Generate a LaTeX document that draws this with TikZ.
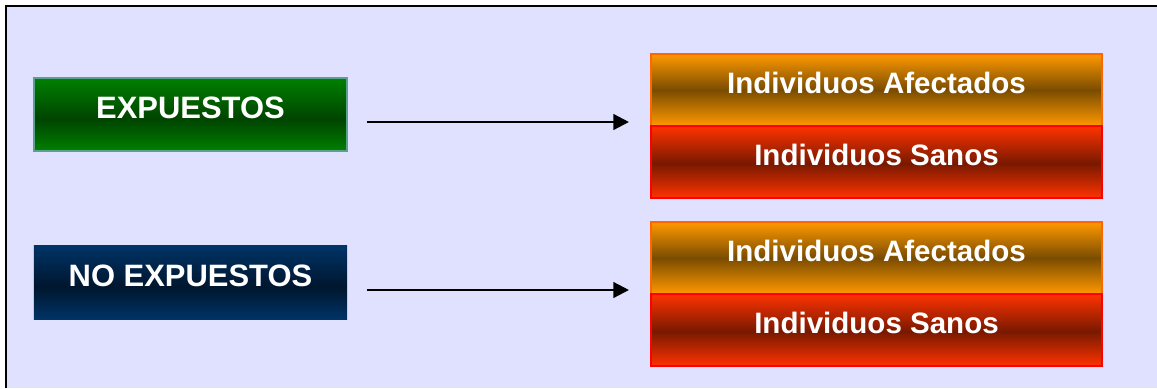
\documentclass[tikz,border=0pt]{standalone}
\usepackage{fontspec}
\setmainfont{Liberation Sans}
\usetikzlibrary{arrows.meta,calc}

\definecolor{fondo}{RGB}{224,224,255}
\definecolor{verde}{RGB}{0,128,0}
\definecolor{verdeosc}{RGB}{0,68,0}
\definecolor{bordeverde}{RGB}{90,160,140}
\definecolor{azul}{RGB}{0,51,102}
\definecolor{azulosc}{RGB}{0,22,46}
\definecolor{naranja}{RGB}{255,153,0}
\definecolor{marron}{RGB}{122,76,0}
\definecolor{bordenaranja}{RGB}{255,102,0}
\definecolor{rojo}{RGB}{255,51,0}
\definecolor{rojoosc}{RGB}{120,25,0}

% bandas: claro arriba y abajo, oscuro en el medio
\pgfdeclareverticalshading{verdebar}{100bp}{color(0bp)=(verde); color(25bp)=(verde); color(47bp)=(verdeosc); color(75bp)=(verde); color(100bp)=(verde)}
\pgfdeclareverticalshading{azulbar}{100bp}{color(0bp)=(azul); color(25bp)=(azul); color(47bp)=(azulosc); color(75bp)=(azul); color(100bp)=(azul)}
\pgfdeclareverticalshading{naranjabar}{100bp}{color(0bp)=(naranja); color(25bp)=(naranja); color(50bp)=(marron); color(75bp)=(naranja); color(100bp)=(naranja)}
\pgfdeclareverticalshading{rojobar}{100bp}{color(0bp)=(rojo); color(25bp)=(rojo); color(49bp)=(rojoosc); color(75bp)=(rojo); color(100bp)=(rojo)}

\begin{document}
\begin{tikzpicture}[x=0.025cm,y=-0.025cm,
  grupo/.style={rectangle, shade, minimum width=7.825cm, minimum height=1.825cm,
    inner sep=0pt, line width=1pt, text=white,
    font=\bfseries\fontsize{22}{26}\selectfont, text height=16pt, text depth=11pt},
  result/.style={rectangle, shade, minimum width=11.275cm, minimum height=1.8cm,
    inner sep=0pt, line width=1.4pt, text=white,
    font=\bfseries\fontsize{21}{25}\selectfont, text height=15.3pt, text depth=10.7pt},
  flecha/.style={line width=1.7pt, -{Triangle[length=11pt,width=11pt]}}]
\useasboundingbox (0,0) rectangle (1157,388);
% fondo
\fill[fondo] (6,6) rectangle (1157,388);
\draw[line width=1.4pt] (6,388) -- (6,6) -- (1157,6);
% grupos
\node[grupo, shading=verdebar, draw=bordeverde] (exp) at (190.5,114.5) {EXPUESTOS};
\node[grupo, shading=azulbar] (noexp) at (190.5,282.5) {NO EXPUESTOS};
% resultados
\node[result, shading=naranjabar, draw=bordenaranja] (afe1) at (876.5,90) {Individuos Afectados};
\node[result, shading=rojobar, draw=red] (san1) at (876.5,162) {Individuos Sanos};
\node[result, shading=naranjabar, draw=bordenaranja] (afe2) at (876.5,258) {Individuos Afectados};
\node[result, shading=rojobar, draw=red] (san2) at (876.5,330) {Individuos Sanos};
% flechas
\draw[flecha] ($(exp.east)+(19,7.5)$) -- ($(exp.east -| afe1.west)+(-21,7.5)$);
\draw[flecha] ($(noexp.east)+(19,7.5)$) -- ($(noexp.east -| afe2.west)+(-21,7.5)$);
\end{tikzpicture}
\end{document}
